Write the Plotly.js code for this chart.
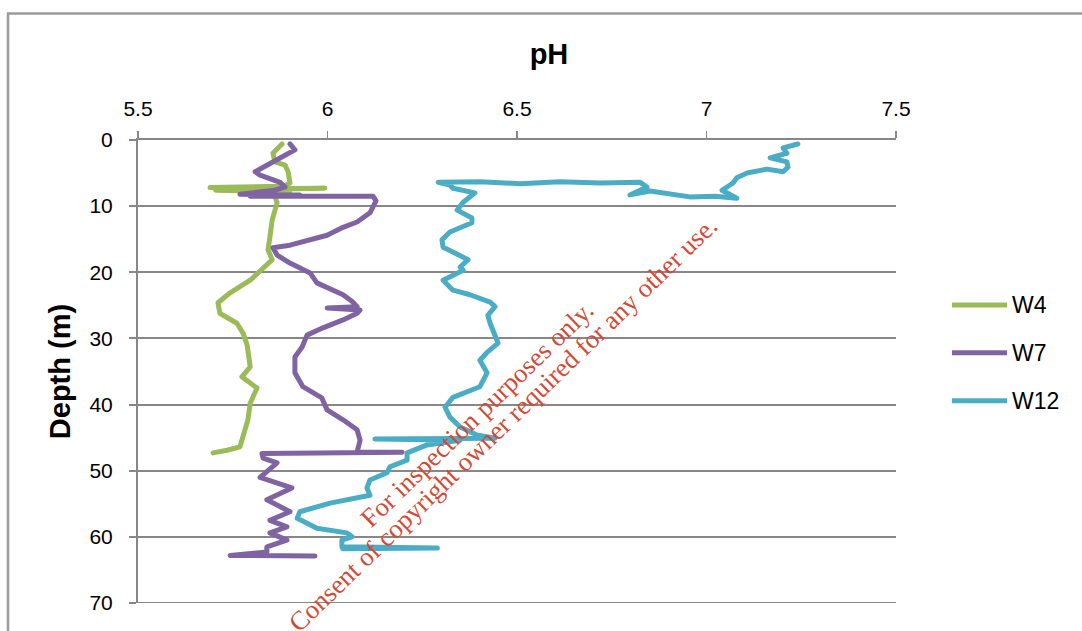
<!DOCTYPE html>
<html>
<head>
<meta charset="utf-8">
<script src="https://cdn.plot.ly/plotly-3.0.1.min.js"></script>
<style>
  html, body { margin: 0; padding: 0; background: #ffffff; }
  #chart { width: 1082px; height: 631px; }
  .scatterlayer path.js-line { stroke-linejoin: round; stroke-linecap: round; }
</style>
</head>
<body>
<div id="chart"></div>
<script>
// pH profiles with depth for three wells
const seriesNames = ['W4', 'W7', 'W12'];
const seriesColors = ['#9BBB59', '#8064A2', '#4BACC6'];

const w4Ph = [5.880, 5.856, 5.861, 5.888, 5.896, 5.901, 5.885, 5.690, 5.760, 5.993, 5.850, 5.705, 5.900, 5.860,
  5.867, 5.854, 5.848, 5.843, 5.854, 5.796, 5.743, 5.711, 5.716, 5.761, 5.777, 5.788, 5.796, 5.774,
  5.814, 5.796, 5.790, 5.769, 5.735, 5.698];
const w4Depth = [0.6, 2.0, 3.3, 3.8, 4.8, 6.5, 7.0, 7.2, 7.4, 7.3, 7.5, 7.6, 7.8, 8.3,
  9.5, 12.1, 14.7, 16.6, 18.1, 21.2, 23.1, 24.6, 26.2, 27.7, 29.2, 31.0, 34.3, 35.8,
  37.5, 39.8, 42.3, 46.4, 46.9, 47.3];

const w7Ph = [5.901, 5.914, 5.888, 5.840, 5.809, 5.822, 5.875, 5.888, 5.861, 5.769, 5.927, 5.796, 6.000, 6.120,
  6.128, 6.112, 6.078, 6.041, 5.999, 5.954, 5.901, 5.856, 5.867, 5.901, 5.954, 5.972, 6.015, 6.041,
  6.067, 6.078, 5.999, 6.086, 6.078, 6.041, 5.988, 5.946, 5.933, 5.914, 5.914, 5.935, 5.985, 5.999,
  6.041, 6.078, 6.086, 6.078, 6.197, 5.827, 5.830, 5.867, 5.822, 5.906, 5.840, 5.901, 5.848, 5.893,
  5.848, 5.893, 5.840, 5.840, 5.743, 5.967];
const w7Depth = [0.6, 1.5, 2.3, 3.8, 4.8, 5.3, 6.4, 7.1, 7.6, 8.2, 8.3, 8.5, 8.4, 8.5,
  9.2, 11.0, 12.4, 13.2, 14.4, 15.1, 15.9, 16.3, 17.4, 18.6, 20.1, 21.6, 22.7, 23.4,
  24.5, 25.2, 25.4, 25.7, 26.2, 27.2, 28.4, 29.5, 31.3, 32.8, 35.2, 37.3, 39.0, 40.8,
  42.3, 43.8, 45.4, 47.2, 47.2, 47.4, 48.1, 48.8, 51.0, 52.6, 54.4, 56.2, 57.5, 58.5,
  59.4, 60.5, 61.5, 62.3, 62.8, 62.9];

const w12Ph = [7.241, 7.202, 7.212, 7.168, 7.212, 7.215, 7.202, 7.160, 7.107, 7.080, 7.070, 7.041, 7.080, 7.022,
  6.956, 6.890, 6.851, 6.798, 6.843, 6.825, 6.719, 6.613, 6.508, 6.402, 6.292, 6.323, 6.331, 6.389,
  6.358, 6.342, 6.381, 6.381, 6.323, 6.302, 6.305, 6.336, 6.371, 6.350, 6.358, 6.305, 6.331, 6.376,
  6.429, 6.442, 6.423, 6.429, 6.450, 6.421, 6.402, 6.421, 6.402, 6.331, 6.310, 6.323, 6.350, 6.394,
  6.442, 6.125, 6.350, 6.263, 6.210, 6.210, 6.165, 6.157, 6.112, 6.104, 6.112, 6.007, 5.927, 5.920,
  5.972, 6.051, 6.065, 6.038, 6.038, 6.290, 6.040];
const w12Depth = [0.6, 1.2, 2.0, 2.7, 3.3, 4.1, 4.8, 4.4, 5.0, 5.7, 6.5, 7.6, 8.8, 8.5,
  8.6, 8.0, 7.7, 8.3, 7.1, 6.4, 6.5, 6.3, 6.6, 6.3, 6.4, 6.8, 7.3, 8.0,
  9.4, 10.6, 11.8, 12.5, 13.9, 15.1, 16.2, 17.1, 18.1, 19.2, 19.7, 21.2, 22.7, 23.4,
  24.5, 25.2, 26.5, 27.7, 30.7, 32.1, 33.3, 35.2, 37.3, 38.9, 40.4, 41.9, 43.4, 44.6,
  45.1, 45.2, 45.4, 46.1, 47.3, 48.4, 49.4, 50.3, 51.4, 52.6, 53.7, 54.9, 56.2, 57.2,
  58.7, 59.4, 60.0, 60.5, 61.5, 61.7, 61.8];

const xTicks = [5.5, 6, 6.5, 7, 7.5];
const yTicks = [0, 10, 20, 30, 40, 50, 60, 70];

const phSeries = [w4Ph, w7Ph, w12Ph];
const depthSeries = [w4Depth, w7Depth, w12Depth];

const traces = seriesNames.map((name, i) => ({
  type: 'scatter',
  mode: 'lines',
  name: name,
  x: phSeries[i],
  y: depthSeries[i],
  line: { color: seriesColors[i], width: 5 },
  showlegend: false
}));

// Plot area in pixels, used to place the legend and frame in paper units
const W = 1082, H = 631;
const M = { l: 138, r: 186, t: 140, b: 28 };
const pw = W - M.l - M.r, ph = H - M.t - M.b;
const px = v => (v - M.l) / pw;
const py = v => (H - M.b - v) / ph;

const gridColor = '#878787';
const tickFamily = 'Liberation Sans Narrow, Arial Narrow, Liberation Sans, sans-serif';
const legendRows = [305, 352.7, 400.7];
const shapes = [];
const annotations = [];

// outer frame (top and left edges)
shapes.push({
  type: 'path', xref: 'paper', yref: 'paper', layer: 'below',
  path: `M ${px(8)} ${py(700)} L ${px(8)} ${py(13.5)} L ${px(1200)} ${py(13.5)}`,
  line: { color: '#9a9a9a', width: 2.5 }
});

// gridline at the deepest tick, which sits on the plot edge
shapes.push({
  type: 'line', xref: 'paper', yref: 'y', layer: 'below',
  x0: 0, x1: 1, y0: yTicks[yTicks.length - 1], y1: yTicks[yTicks.length - 1],
  line: { color: gridColor, width: 2 }
});

seriesNames.forEach((name, i) => {
  shapes.push({
    type: 'line', xref: 'paper', yref: 'paper',
    x0: px(952), x1: px(1007), y0: py(legendRows[i]), y1: py(legendRows[i]),
    line: { color: seriesColors[i], width: 5 }
  });
  annotations.push({
    xref: 'paper', yref: 'paper', x: px(1010), y: py(legendRows[i]),
    xanchor: 'left', yanchor: 'middle', showarrow: false, text: name,
    font: { family: 'Liberation Sans, Arial, sans-serif', size: 23, color: '#000000' }
  });
});

// diagonal notice text
const noticeFont = { family: 'Liberation Serif, Times New Roman, serif', size: 26.5, color: '#d24a36' };
annotations.push({
  xref: 'paper', yref: 'paper', x: px(477), y: py(414), xanchor: 'center', yanchor: 'middle',
  showarrow: false, textangle: -44, text: 'For inspection purposes only.', font: noticeFont
});
annotations.push({
  xref: 'paper', yref: 'paper', x: px(503), y: py(424), xanchor: 'center', yanchor: 'middle',
  showarrow: false, textangle: -44,
  text: 'Consent of copyright owner required for any other use.', font: noticeFont
});

const layout = {
  width: W, height: H,
  margin: M,
  paper_bgcolor: '#ffffff', plot_bgcolor: '#ffffff',
  showlegend: false,
  font: { family: 'Liberation Sans, Arial, sans-serif', color: '#000000' },
  // axis heading for the pH scale, centred over the whole chart box
  title: {
    text: '<b>pH</b>', xref: 'container', yref: 'container',
    x: 549 / W, y: 1 - 54 / H, xanchor: 'center', yanchor: 'middle',
    font: { size: 29, color: '#000000' }
  },
  xaxis: {
    side: 'top',
    range: [5.5, 7.5],
    tickvals: xTicks,
    ticktext: xTicks.map(String),
    showgrid: false,
    zeroline: false,
    showline: true, linecolor: gridColor, linewidth: 2,
    ticks: 'outside', ticklen: 7, tickwidth: 1.5, tickcolor: gridColor,
    ticklabelstandoff: 7,
    tickfont: { family: tickFamily, size: 21, color: '#000000' }
  },
  yaxis: {
    range: [70, 0],
    tickvals: yTicks,
    ticktext: yTicks.map(String),
    showgrid: true, gridcolor: gridColor, gridwidth: 2,
    zeroline: false,
    showline: true, linecolor: gridColor, linewidth: 2,
    ticks: 'outside', ticklen: 7, tickwidth: 2, tickcolor: gridColor,
    ticklabelstandoff: 12,
    tickfont: { family: tickFamily, size: 21, color: '#000000' },
    title: { text: '<b>Depth (m)</b>', font: { size: 29, color: '#000000' }, standoff: 10 }
  },
  shapes: shapes,
  annotations: annotations
};

Plotly.newPlot('chart', traces, layout, { staticPlot: true, displayModeBar: false });
</script>
</body>
</html>
